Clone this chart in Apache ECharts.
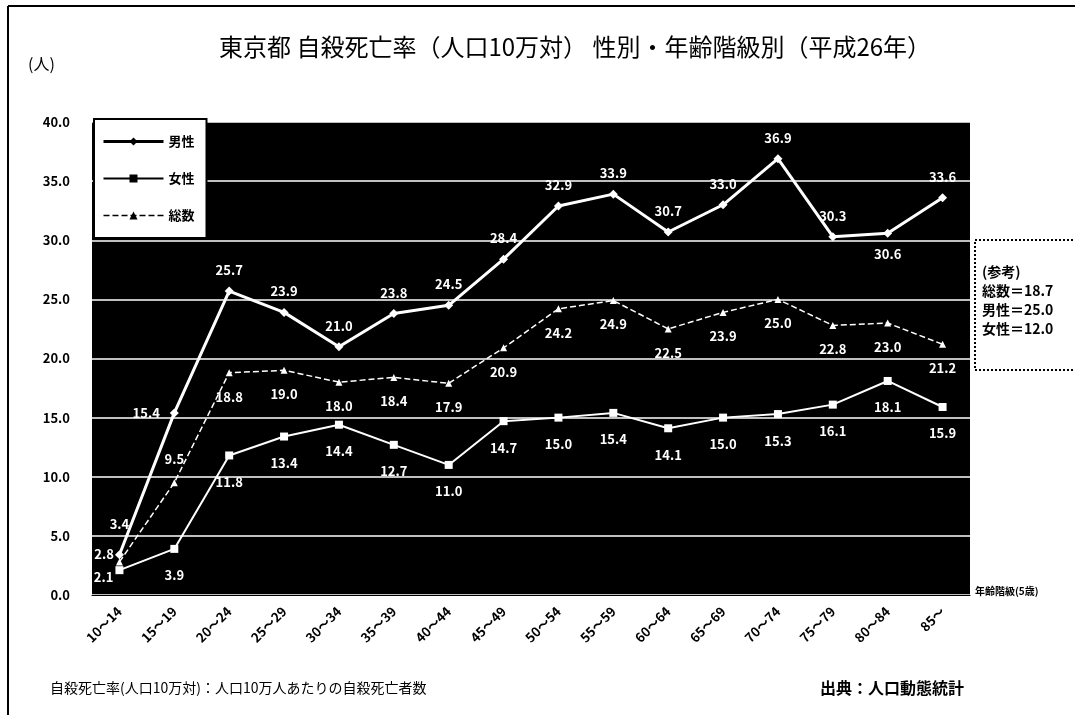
<!DOCTYPE html>
<html lang="ja">
  <head>
    <meta charset="UTF-8" />
    <title>東京都 自殺死亡率</title>
    <style>
      html, body { margin: 0; padding: 0; background: #fff; }
      #main { width: 1075px; height: 715px; }
    </style>
  </head>
  <body>
    <script src="https://cdn.jsdelivr.net/npm/echarts@6/dist/echarts.min.js"></script>
    <div id="main"></div>
    <script>
      const ageGroups = ['10～14', '15～19', '20～24', '25～29', '30～34', '35～39', '40～44', '45～49',
        '50～54', '55～59', '60～64', '65～69', '70～74', '75～79', '80～84', '85～']
      const male = [3.4, 15.4, 25.7, 23.9, 21.0, 23.8, 24.5, 28.4, 32.9, 33.9, 30.7, 33.0, 36.9, 30.3, 30.6, 33.6]
      const female = [2.1, 3.9, 11.8, 13.4, 14.4, 12.7, 11.0, 14.7, 15.0, 15.4, 14.1, 15.0, 15.3, 16.1, 18.1, 15.9]
      const total = [2.8, 9.5, 18.8, 19.0, 18.0, 18.4, 17.9, 20.9, 24.2, 24.9, 22.5, 23.9, 25.0, 22.8, 23.0, 21.2]
      const refLines = ['(参考)', '総数＝18.7', '男性＝25.0', '女性＝12.0']

      const font = '"Noto Sans CJK JP", "Noto Sans", sans-serif'
      const chart = echarts.init(document.getElementById('main'))

      const labelStyle = {
        show: true,
        color: '#fff',
        fontSize: 13,
        fontWeight: 'bold',
        fontFamily: font,
        formatter: ({ value }) => value.toFixed(1)
      }

      // a few labels are moved off their default side
      const withLabel = (values, moved) =>
        values.map((v, i) => (moved[i] ? { value: v, label: moved[i] } : v))

      chart.setOption({
        animation: false,
        backgroundColor: '#fff',
        textStyle: { fontFamily: font },
        title: {
          text: '東京都 自殺死亡率（人口10万対） 性別・年齢階級別（平成26年）',
          left: 214,
          top: 30,
          textStyle: { fontSize: 24, fontWeight: 'normal', color: '#000', fontFamily: font }
        },
        legend: {
          orient: 'vertical',
          left: 94,
          top: 119,
          padding: [16, 12, 16, 8],
          itemGap: 24,
          itemWidth: 60,
          itemHeight: 10,
          backgroundColor: '#fff',
          borderColor: '#000',
          borderWidth: 2,
          textStyle: { color: '#000', fontSize: 13, fontWeight: 'bold', fontFamily: font },
          data: [
            { name: '男性', itemStyle: { color: '#000' }, lineStyle: { color: '#000', width: 3 } },
            { name: '女性', itemStyle: { color: '#000' }, lineStyle: { color: '#000', width: 2 } },
            { name: '総数', itemStyle: { color: '#000' }, lineStyle: { color: '#000', width: 1.5, type: 'dashed' } }
          ]
        },
        grid: { left: 92, right: 105, top: 122, bottom: 120, backgroundColor: '#000', show: true, borderWidth: 0 },
        xAxis: {
          type: 'category',
          data: ageGroups,
          boundaryGap: true,
          axisLine: { lineStyle: { color: '#000' } },
          axisTick: { show: false },
          axisLabel: { rotate: 45, color: '#000', fontSize: 13, fontWeight: 'bold', margin: 14, fontFamily: font }
        },
        yAxis: {
          type: 'value',
          min: 0,
          max: 40,
          interval: 5,
          axisLine: { show: false },
          axisTick: { show: false },
          axisLabel: {
            color: '#000',
            fontSize: 13,
            fontWeight: 'bold',
            margin: 22,
            fontFamily: font,
            formatter: v => v.toFixed(1)
          },
          splitLine: { lineStyle: { color: '#fff', width: 1.5 } }
        },
        series: [
          {
            name: '男性',
            type: 'line',
            data: withLabel(male, {
              0: { position: 'top', distance: 20 },
              1: { position: 'left' },
              14: { position: 'bottom' }
            }),
            symbol: 'diamond',
            symbolSize: 9,
            itemStyle: { color: '#fff' },
            lineStyle: { color: '#fff', width: 3 },
            label: { ...labelStyle, position: 'top', distance: 10 },
            z: 4
          },
          {
            name: '女性',
            type: 'line',
            data: withLabel(female, { 0: { position: 'left', distance: 2, offset: [0, 7] } }),
            symbol: 'rect',
            symbolSize: 8,
            itemStyle: { color: '#fff' },
            lineStyle: { color: '#fff', width: 2 },
            label: { ...labelStyle, position: 'bottom', distance: 16 },
            z: 3
          },
          {
            name: '総数',
            type: 'line',
            data: withLabel(total, {
              0: { position: 'left', distance: 2, offset: [0, -8] },
              1: { position: 'top' }
            }),
            symbol: 'triangle',
            symbolSize: 7,
            itemStyle: { color: '#fff' },
            lineStyle: { color: '#fff', width: 1.5, type: 'dashed' },
            label: { ...labelStyle, position: 'bottom', distance: 14 },
            z: 2
          }
        ],
        graphic: [
          { type: 'line', shape: { x1: 8, y1: 6, x2: 1075, y2: 6 }, style: { stroke: '#000', lineWidth: 2 } },
          { type: 'line', shape: { x1: 8, y1: 6, x2: 8, y2: 715 }, style: { stroke: '#000', lineWidth: 2 } },
          {
            type: 'text', left: 28, top: 56,
            style: { text: '(人)', fill: '#000', font: '16px ' + font }
          },
          {
            type: 'rect', shape: { x: 975, y: 240, width: 110, height: 130 },
            style: { fill: '#fff', stroke: '#000', lineWidth: 2, lineDash: [2, 2] }
          },
          {
            type: 'text', x: 982, y: 262,
            style: { text: refLines.join('\n'), fill: '#000', font: 'bold 14px ' + font, lineHeight: 19 }
          },
          {
            type: 'text', x: 975, y: 586,
            style: { text: '年齢階級(5歳)', fill: '#000', font: 'bold 10px ' + font }
          },
          {
            type: 'text', x: 50, y: 681,
            style: { text: '自殺死亡率(人口10万対)：人口10万人あたりの自殺死亡者数', fill: '#000', font: '14px ' + font }
          },
          {
            type: 'text', x: 820, y: 680,
            style: { text: '出典：人口動態統計', fill: '#000', font: 'bold 16px ' + font }
          }
        ]
      })
    </script>
  </body>
</html>
